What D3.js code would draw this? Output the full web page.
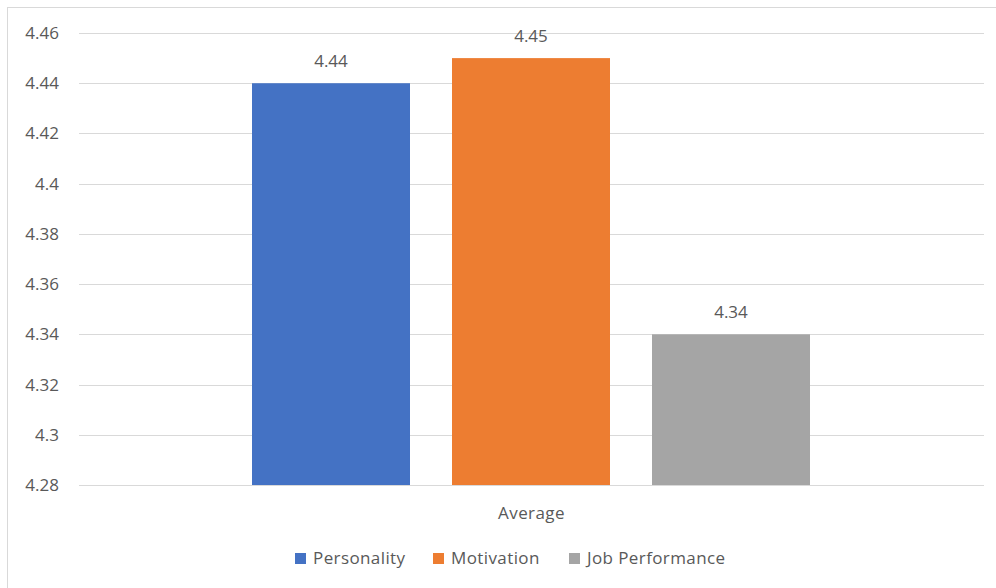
<!DOCTYPE html>
<html>
<head>
<meta charset="utf-8">
<script src="https://cdn.jsdelivr.net/npm/d3@7"></script>
<style>
  body { margin: 0; background: #fff; }
  text { font-family: "Open Sans", "Liberation Sans", sans-serif; fill: #595959; }
</style>
</head>
<body>
<div id="chart"></div>
<script>
var category = ["Average"];
var seriesNames = ["Personality", "Motivation", "Job Performance"];
var seriesValues = [4.44, 4.45, 4.34];
var seriesColors = ["#4472C4", "#ED7D31", "#A5A5A5"];
var yTicks = [4.28, 4.3, 4.32, 4.34, 4.36, 4.38, 4.4, 4.42, 4.44, 4.46];

var width = 996, height = 588;
var margin = {top: 33, right: 12, bottom: 103, left: 79};
var innerW = width - margin.left - margin.right,
    innerH = height - margin.top - margin.bottom;

var svg = d3.select("#chart").append("svg")
    .attr("width", width)
    .attr("height", height);

// chart border
svg.append("rect")
    .attr("x", 7.5).attr("y", 7.5)
    .attr("width", width).attr("height", height)
    .attr("fill", "none")
    .attr("stroke", "#d9d9d9");

var g = svg.append("g")
    .attr("transform", "translate(" + margin.left + "," + margin.top + ")");

var y = d3.scaleLinear().domain([4.28, 4.46]).range([innerH, 0]);

var x0 = d3.scaleBand().domain(category).range([0, innerW]).paddingInner(0).paddingOuter(0);
// bars cover 558 of 905 px of the category band
var x1 = d3.scaleBand().domain(seriesNames)
    .range([x0("Average") + 173, x0("Average") + 731])
    .paddingInner(42 / 200).paddingOuter(0);

// gridlines
g.selectAll("line.grid").data(yTicks).enter().append("line")
    .attr("x1", 0).attr("x2", innerW)
    .attr("y1", function (d) { return Math.round(y(d)) + 0.5; })
    .attr("y2", function (d) { return Math.round(y(d)) + 0.5; })
    .attr("stroke", "#d9d9d9")
    .attr("stroke-width", 1);

// y tick labels
g.selectAll("text.tick").data(yTicks).enter().append("text")
    .attr("x", -20)
    .attr("y", function (d) { return y(d); })
    .attr("dy", "0.35em")
    .attr("text-anchor", "end")
    .style("font-size", "17px")
    .text(function (d) { return d3.format("")(+d.toFixed(2)); });

var data = seriesNames.map(function (n, i) {
    return {name: n, value: seriesValues[i], color: seriesColors[i]};
});

// bars
g.selectAll("rect.bar").data(data).enter().append("rect")
    .attr("x", function (d) { return x1(d.name); })
    .attr("y", function (d) { return y(d.value); })
    .attr("width", x1.bandwidth())
    .attr("height", function (d) { return innerH - y(d.value); })
    .attr("fill", function (d) { return d.color; });

// value labels
g.selectAll("text.val").data(data).enter().append("text")
    .attr("x", function (d) { return x1(d.name) + x1.bandwidth() / 2; })
    .attr("y", function (d) { return y(d.value) - 16; })
    .attr("text-anchor", "middle")
    .style("font-size", "17px")
    .text(function (d) { return d.value.toFixed(2); });

// category label
g.append("text")
    .attr("x", x0("Average") + x0.bandwidth() / 2)
    .attr("y", innerH + 34)
    .attr("text-anchor", "middle")
    .style("font-size", "17px")
    .style("letter-spacing", "0.4px")
    .text(category[0]);

// legend
var legendX = [295, 433, 569];
var legend = svg.selectAll("g.legend").data(data).enter().append("g")
    .attr("transform", function (d, i) { return "translate(" + legendX[i] + ",558)"; });

legend.append("rect")
    .attr("x", 0).attr("y", -5)
    .attr("width", 11).attr("height", 11)
    .attr("fill", function (d) { return d.color; });

legend.append("text")
    .attr("x", 18)
    .attr("y", 0)
    .attr("dy", "0.35em")
    .style("font-size", "17px")
    .style("letter-spacing", "0.4px")
    .text(function (d) { return d.name; });
</script>
</body>
</html>
